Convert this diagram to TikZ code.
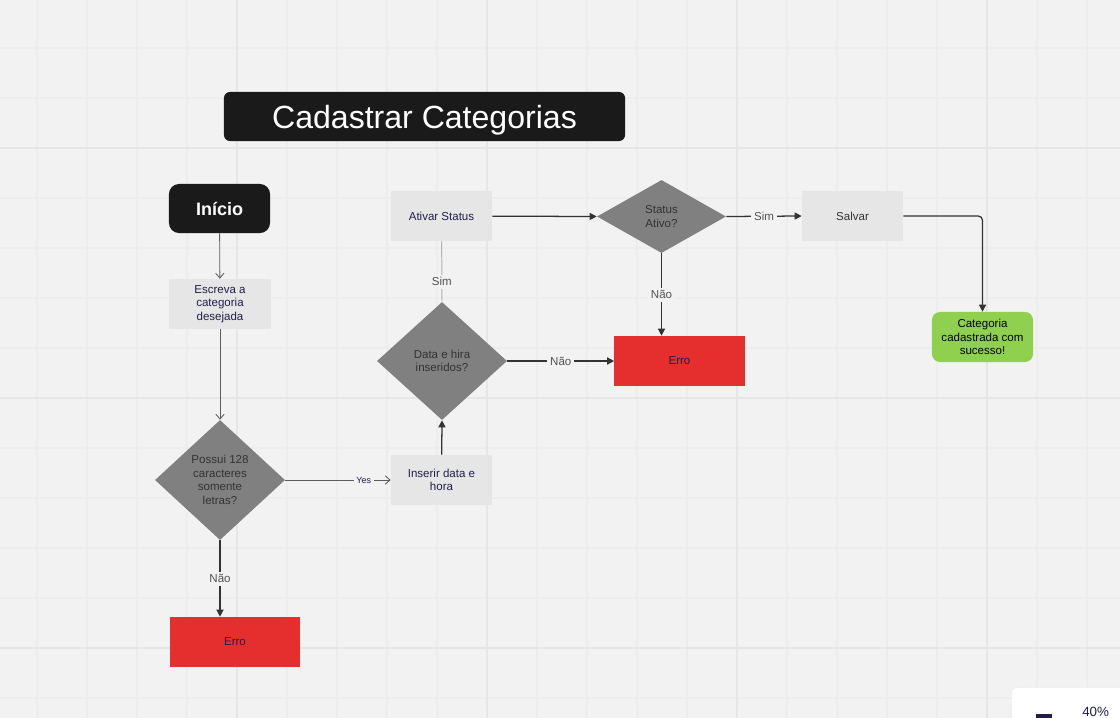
\documentclass[tikz,border=0pt]{standalone}
\usepackage{fontspec}
\setmainfont{Liberation Sans}
\usetikzlibrary{positioning, arrows.meta, shapes.geometric}

\definecolor{canvas}{HTML}{F2F2F2}
\definecolor{gridminor}{HTML}{EDEDED}
\definecolor{gridmajor}{HTML}{E6E6E6}
\definecolor{boxgray}{HTML}{E6E6E6}
\definecolor{decgray}{HTML}{808080}
\definecolor{errred}{HTML}{E52E2E}
\definecolor{okgreen}{HTML}{8FD14F}
\definecolor{inknavy}{HTML}{1F1F4A}
\definecolor{inkdark}{HTML}{333333}
\definecolor{titleblack}{HTML}{1A1A1A}

\begin{document}
\begin{tikzpicture}[
        x=0.025cm, y=-0.025cm, % one unit = one pixel of the screenshot
        every node/.style={font=\fontsize{8.2}{9.6}\selectfont, align=center, inner sep=1pt}, % Node style
        process/.style={rectangle, fill=boxgray, text=inknavy, minimum width=2.525cm, minimum height=1.25cm},
        error/.style={rectangle, fill=errred, text=inknavy, minimum width=3.25cm, minimum height=1.25cm},
        decision/.style={diamond, fill=decgray, text=inkdark, inner sep=0pt},
        terminal/.style={rectangle, rounded corners=0.25cm, fill=titleblack, text=white, minimum width=2.525cm, minimum height=1.225cm},
        lbl/.style={fill=canvas, text=inkdark!85, inner sep=2pt},
        flow/.style={-{Triangle[length=5pt, width=5pt]}, draw=inkdark, line width=0.9pt}, % Arrow style
        thinflow/.style={-{Straight Barb[length=3.5pt, width=6pt]}, draw=inkdark!80, line width=0.6pt}
    ]

    % Canvas and grid
    \useasboundingbox (0,0) rectangle (1120,718);
    \clip (0,0) rectangle (1120,718);
    \fill[canvas] (0,0) rectangle (1120,718);
    \foreach \gx in {37,87,...,1087} \draw[gridminor, line width=0.8pt] (\gx,0) -- (\gx,718);
    \foreach \gy in {48,98,...,698} \draw[gridminor, line width=0.8pt] (0,\gy) -- (1120,\gy);
    \foreach \gx in {237,487,737,987} \draw[gridmajor, line width=1pt] (\gx,0) -- (\gx,718);
    \foreach \gy in {148,398,648} \draw[gridmajor, line width=1pt] (0,\gy) -- (1120,\gy);

    % Title
    \node (title) [rectangle, rounded corners=0.15cm, fill=titleblack, text=white,
        minimum width=10.025cm, minimum height=1.225cm, text depth=0pt,
        font=\fontsize{22.8}{26}\selectfont] at (424.5,116.5) {Cadastrar Categorias};

    % Left column
    \node (start) [terminal, font=\fontsize{12.8}{14}\selectfont\bfseries] at (219.5,208.5) {Início};
    \node (write) [process] at (220,304) {Escreva a\\categoria\\desejada};
    \node (check) [decision, minimum width=3.25cm, minimum height=3cm, aspect=1.08] at (220,480) {Possui 128\\caracteres\\somente\\letras?};
    \node (err1) [error] at (235,642) {Erro};

    % Middle column
    \node (insert) [process] at (441.5,480) {Inserir data e\\hora};
    \node (dated) [decision, minimum width=3.25cm, minimum height=2.95cm, aspect=1.1] at (442,361) {Data e hira\\inseridos?};
    \node (activate) [process] at (441.5,216) {Ativar Status};

    % Right part
    \node (status) [decision, minimum width=3.225cm, minimum height=1.825cm, aspect=1.77] at (661.5,216.5) {Status\\Ativo?};
    \node (err2) [error] at (679.5,361) {Erro};
    \node (save) [process, text=inkdark] at (852.5,216) {Salvar};
    \node (done) [rectangle, rounded corners=0.2cm, fill=okgreen, text=black,
        minimum width=2.525cm, minimum height=1.25cm] at (982.5,337) {Categoria\\cadastrada com\\sucesso!};

    % Connections
    \draw[thinflow] (start) -- (write);
    \draw[thinflow] (write) -- (check);
    \draw[thinflow] (check.east) -- node[lbl, pos=0.745, text=inknavy, font=\fontsize{6.4}{7}\selectfont] {Yes} (insert.west);
    \draw[flow] (check.south) -- node[lbl] {Não} (check.south |- err1.north);
    \draw[flow] (insert) -- (dated.south);
    \draw[draw=black!30, line width=0.7pt] (dated.north) -- node[lbl, pos=0.33] {Sim} (activate);
    \draw[flow] (dated.east) -- node[lbl] {Não} (err2.west);
    \draw[flow] (activate) -- (status.west);
    \draw[flow] (status.south) -- node[lbl] {Não} (status.south |- err2.north);
    \draw[flow] (status.east) -- node[lbl] {Sim} (save.west);
    \draw[flow, rounded corners=3] (save.east) -| (done.north);

    % Zoom widget in the corner
    \node (zoombox) [rectangle, rounded corners=0.15cm, fill=white, draw=black!8,
        minimum width=3.5cm, minimum height=1.5cm, anchor=north west] at (1011,687) {};
    \fill[inknavy] (1036,714) rectangle (1052,718);
    \node (zoomval) [text=inknavy, font=\fontsize{9.5}{10}\selectfont, inner sep=0pt, anchor=south west] at (1082,717) {40\%};

\end{tikzpicture}
\end{document}
